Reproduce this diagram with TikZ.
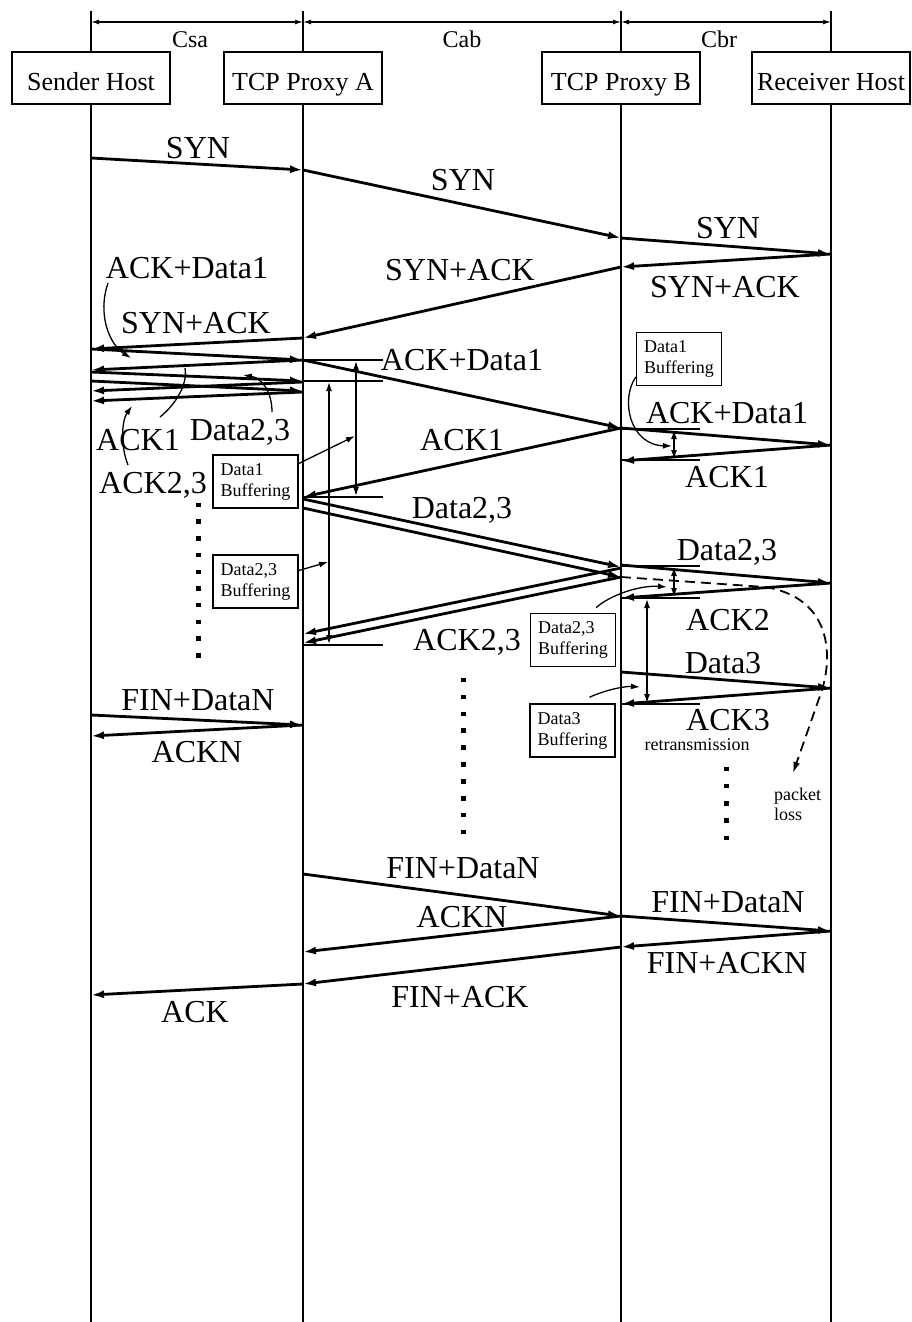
\documentclass[tikz,border=0pt]{standalone}
\usepackage{fontspec}
\setmainfont{Liberation Serif}
\usetikzlibrary{arrows.meta}
\begin{document}
\begin{tikzpicture}[x=1pt,y=-1pt,
  msg/.style={line width=2.8pt,-{Latex[length=13pt,width=8pt]}},
  thinline/.style={line width=1.3pt},
  dbl/.style={line width=1.3pt,{Latex[length=9pt,width=6pt]}-{Latex[length=9pt,width=6pt]}},
  ptr/.style={line width=1.3pt,-{Latex[length=9pt,width=6pt]}},
  dimarrow/.style={line width=1.3pt,{Latex[length=8pt,width=5pt]}-{Latex[length=8pt,width=5pt]}},
  life/.style={line width=2.6pt},
  big/.style={font=\fontsize{32}{34}\selectfont, anchor=base, inner sep=0pt},
  hdrlabel/.style={font=\fontsize{24}{26}\selectfont, anchor=base, inner sep=0pt},
  hdr/.style={draw, line width=2pt, minimum width=158pt, minimum height=51pt, font=\fontsize{26}{28}\selectfont, inner sep=0pt, text height=24pt, text depth=0pt},
  buf/.style={draw, line width=1.5pt, font=\fontsize{18}{21}\selectfont, align=left, minimum width=85pt, minimum height=53pt, inner sep=3pt},
  small/.style={font=\fontsize{18}{20}\selectfont, anchor=base, inner sep=0pt},
  dotmark/.style={fill, minimum width=5pt, minimum height=4.5pt, inner sep=0pt},
  lossline/.style={line width=1.8pt, dashed, dash pattern=on 10pt off 6pt, -{Latex[length=11pt,width=7pt]}}
]
\useasboundingbox (0,0) rectangle (911,1322);

% header boxes
\node[hdr] (sh) at (91,78) {Sender Host};
\node[hdr] (pa) at (303,78) {TCP Proxy A};
\node[hdr] (pb) at (621,78) {TCP Proxy B};
\node[hdr] (rh) at (831,78) {Receiver Host};

% top ticks and dimension arrows
\coordinate (tS) at (91,11);
\coordinate (tA) at (303,11);
\coordinate (tB) at (621,11);
\coordinate (tR) at (831,11);
\draw[thinline] (tS) -- (sh.north);
\draw[thinline] (tA) -- (pa.north);
\draw[thinline] (tB) -- (pb.north);
\draw[thinline] (tR) -- (rh.north);
\coordinate (dS) at (91,22);
\coordinate (dA) at (303,22);
\coordinate (dB) at (621,22);
\coordinate (dR) at (831,22);
\draw[dimarrow] (dS) -- (dA);
\draw[dimarrow] (dA) -- (dB);
\draw[dimarrow] (dB) -- (dR);
\node[hdrlabel] (csa) at (190,48) {Csa};
\node[hdrlabel] (cab) at (462,48) {Cab};
\node[hdrlabel] (cbr) at (719,48) {Cbr};

% lifelines
\coordinate (eS) at (91,1322);
\coordinate (eA) at (303,1322);
\coordinate (eB) at (621,1322);
\coordinate (eR) at (831,1322);
\draw[life] (sh.south) -- (eS);
\draw[life] (pa.south) -- (eA);
\draw[life] (pb.south) -- (eB);
\draw[life] (rh.south) -- (eR);

% ---- connection setup
\coordinate (S1) at (91,158);
\coordinate (A1) at (303,170);
\coordinate (B1) at (621,238);
\coordinate (R1) at (831,254);
\coordinate (B2) at (621,267);
\coordinate (A2) at (303,338);
\coordinate (S2) at (91,349);
\draw[msg] (S1) -- (A1);
\draw[msg] (A1) -- (B1);
\draw[msg] (B1) -- (R1);
\draw[msg] (R1) -- (B2);
\draw[msg] (B2) -- (A2);
\draw[msg] (A2) -- (S2);

% ---- sender / proxy A data exchange
\coordinate (A3) at (303,360);
\coordinate (S3) at (91,370);
\coordinate (S4) at (91,372);
\coordinate (A4) at (303,381);
\coordinate (S5) at (91,381);
\coordinate (A5) at (303,391);
\coordinate (A6) at (303,382);
\coordinate (S6) at (91,391);
\coordinate (A7) at (303,392);
\coordinate (S7) at (91,401);
\draw[msg] (S2) -- (A3);
\draw[msg] (A3) -- (S3);
\draw[msg] (S4) -- (A4);
\draw[msg] (S5) -- (A5);
\draw[msg] (A6) -- (S6);
\draw[msg] (A7) -- (S7);

% ---- proxy A / proxy B
\coordinate (B3) at (621,428);
\coordinate (A8) at (303,497);
\coordinate (A9) at (303,499);
\coordinate (B4) at (621,567);
\coordinate (A10) at (303,508);
\coordinate (B5) at (621,577);
\coordinate (B6) at (621,568);
\coordinate (A11) at (303,634);
\coordinate (A12) at (303,643);
\draw[msg] (A3) -- (B3);
\draw[msg] (B3) -- (A8);
\draw[msg] (A9) -- (B4);
\draw[msg] (A10) -- (B5);
\draw[msg] (B6) -- (A11);
\draw[msg] (B5) -- (A12);

% ---- proxy B / receiver
\coordinate (R2) at (831,445);
\coordinate (B7) at (621,461);
\coordinate (B8) at (621,565);
\coordinate (R3) at (831,583);
\coordinate (B9) at (621,598);
\coordinate (B10) at (621,672);
\coordinate (R4) at (831,688);
\coordinate (B11) at (621,704);
\draw[msg] (B3) -- (R2);
\draw[msg] (R2) -- (B7);
\draw[msg] (B8) -- (R3);
\draw[msg] (R3) -- (B9);
\draw[msg] (B10) -- (R4);
\draw[msg] (R4) -- (B11);

% ---- closing
\coordinate (S8) at (91,715);
\coordinate (A13) at (303,725);
\coordinate (S9) at (91,736);
\coordinate (A14) at (303,874);
\coordinate (B12) at (621,916);
\coordinate (R5) at (831,931);
\coordinate (A15) at (303,952);
\coordinate (B13) at (621,947);
\coordinate (A16) at (303,984);
\coordinate (S10) at (91,995);
\draw[msg] (S8) -- (A13);
\draw[msg] (A13) -- (S9);
\draw[msg] (A14) -- (B12);
\draw[msg] (B12) -- (R5);
\draw[msg] (B12) -- (A15);
\draw[msg] (R5) -- (B13);
\draw[msg] (B13) -- (A16);
\draw[msg] (A16) -- (S10);

% ---- timing marks at proxy A
\coordinate (hA1) at (383,360);
\coordinate (hA2) at (383,381);
\coordinate (hA3) at (383,497);
\coordinate (hA4) at (383,645);
\coordinate (hA4s) at (303,645);
\draw[thinline] (A3) -- (hA1);
\draw[thinline] (A4) -- (hA2);
\draw[thinline] (A8) -- (hA3);
\draw[thinline] (hA4s) -- (hA4);
\coordinate (vA1t) at (356,361);
\coordinate (vA1b) at (356,496);
\coordinate (vA2t) at (329,382);
\coordinate (vA2b) at (329,644);
\draw[dbl] (vA1t) -- (vA1b);
\draw[dbl] (vA2t) -- (vA2b);

% ---- timing marks at proxy B
\coordinate (hB1) at (700,429);
\coordinate (hB1s) at (621,429);
\coordinate (hB2) at (700,460);
\coordinate (hB2s) at (621,460);
\coordinate (hB3) at (700,566);
\coordinate (hB3s) at (621,566);
\coordinate (hB4) at (700,598);
\coordinate (hB5) at (700,704);
\draw[thinline] (hB1s) -- (hB1);
\draw[thinline] (hB2s) -- (hB2);
\draw[thinline] (hB3s) -- (hB3);
\draw[thinline] (B9) -- (hB4);
\draw[thinline] (B11) -- (hB5);
\coordinate (vB1t) at (674,430);
\coordinate (vB1b) at (674,459);
\coordinate (vB2t) at (674,567);
\coordinate (vB2b) at (674,597);
\coordinate (vB3t) at (647,599);
\coordinate (vB3b) at (647,703);
\draw[dbl] (vB1t) -- (vB1b);
\draw[dbl] (vB2t) -- (vB2b);
\draw[dbl] (vB3t) -- (vB3b);

% ---- buffering boxes
\node[buf] (bufA1) at (255.5,481.5) {Data1\\Buffering};
\node[buf] (bufA2) at (255.5,581.5) {Data2,3\\Buffering};
\node[buf] (bufB1) at (679,359) {Data1\\Buffering};
\node[buf] (bufB2) at (573,640) {Data2,3\\Buffering};
\node[buf] (bufB3) at (572.5,730.5) {Data3\\Buffering};

\coordinate (pA1) at (355,436);
\coordinate (pA2) at (328,562);
\draw[ptr] ([yshift=18pt]bufA1.east) -- (pA1);
\draw[ptr] ([yshift=11pt]bufA2.east) -- (pA2);
\coordinate (pB1) at (672,446);
\coordinate (pB2) at (667,587);
\coordinate (pB3) at (640,687);
\draw[ptr] ([yshift=-18pt]bufB1.west) .. controls (620,400) and (630,445) .. (pB1);
\draw[ptr] ([xshift=23pt,yshift=5pt]bufB2.north) .. controls (610,595) and (640,585) .. (pB2);
\draw[ptr] ([xshift=17pt,yshift=6pt]bufB3.north) .. controls (605,690) and (625,686) .. (pB3);

% ---- packet loss path
\coordinate (lossA) at (765,587);
\coordinate (lossB) at (822,690);
\coordinate (lossC) at (793,773);
\draw[lossline] (B5) -- (lossA) .. controls (828,597) and (834,650) .. (lossB) -- (lossC);

% ---- labels
\node[big] (l1) at (198,158) {SYN};
\node[big] (l2) at (463,190) {SYN};
\node[big] (l3) at (728,238) {SYN};
\node[big] (l4) at (187,278) {ACK+Data1};
\node[big] (l5) at (460,280) {SYN+ACK};
\node[big] (l6) at (725,297) {SYN+ACK};
\node[big] (l7) at (196,333) {SYN+ACK};
\node[big] (l8) at (462,370) {ACK+Data1};
\node[big] (l9) at (138,450) {ACK1};
\node[big] (l10) at (240,440) {Data2,3};
\node[big] (l11) at (153,493) {ACK2,3};
\node[big] (l12) at (462,450) {ACK1};
\node[big] (l13) at (462,518) {Data2,3};
\node[big] (l14) at (467,650) {ACK2,3};
\node[big] (l15) at (727,423) {ACK+Data1};
\node[big] (l16) at (727,487) {ACK1};
\node[big] (l17) at (727,560) {Data2,3};
\node[big] (l18) at (728,630) {ACK2};
\node[big] (l19) at (723,673) {Data3};
\node[big] (l20) at (728,730) {ACK3};
\node[big] (l21) at (198,710) {FIN+DataN};
\node[big] (l22) at (197,762) {ACKN};
\node[big] (l23) at (463,878) {FIN+DataN};
\node[big] (l24) at (462,927) {ACKN};
\node[big] (l25) at (460,1007) {FIN+ACK};
\node[big] (l26) at (195,1022) {ACK};
\node[big] (l27) at (728,912) {FIN+DataN};
\node[big] (l28) at (727,973) {FIN+ACKN};
\node[small] (l29) at (697,750) {retransmission};
\node[small, anchor=base west] (l30) at (774,800) {packet};
\node[small, anchor=base west] (l31) at (774,820) {loss};

% ---- curved pointers from labels
\coordinate (cp1) at (131,358);
\coordinate (cp2) at (243,375);
\coordinate (cp3) at (185,368);
\coordinate (cp4) at (132,406);
\coordinate (cs1) at (108,283);
\coordinate (cs2) at (272,412);
\coordinate (cs3) at (160,417);
\coordinate (cs4) at (128,465);
\draw[ptr] (cs1) .. controls (97,315) and (110,345) .. (cp1);
\draw[ptr] (cs2) .. controls (272,392) and (262,378) .. (cp2);
\draw[thinline] (cs3) .. controls (175,405) and (188,385) .. (cp3);
\draw[ptr] (cs4) .. controls (120,445) and (122,420) .. (cp4);

% ---- continuation dots
\foreach \i in {0,...,9} {
  \node[dotmark] (dl\i) at (198,505+16.7*\i) {};
  \node[dotmark] (dm\i) at (463,680+16.9*\i) {};
}
\foreach \i in {0,...,4} {
  \node[dotmark] (dr\i) at (726,769+17.2*\i) {};
}
\end{tikzpicture}
\end{document}
